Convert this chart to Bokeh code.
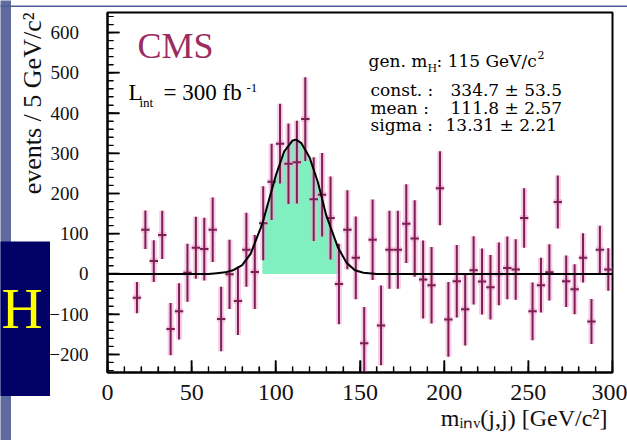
import math
from bokeh.plotting import figure
from bokeh.models import Range1d, Label, Title, FixedTicker, ColumnDataSource, CustomJSTickFormatter
from bokeh.embed import file_html
from bokeh.resources import INLINE

# ---------------- data ----------------
mass = [17.5, 22.5, 27.5, 32.5, 37.5, 42.5, 47.5, 52.5, 57.5, 62.5,
        67.5, 72.5, 77.5, 82.5, 87.5, 92.5, 97.5, 102.5, 107.5, 112.5,
        117.5, 122.5, 127.5, 132.5, 137.5, 142.5, 147.5, 152.5, 157.5, 162.5,
        167.5, 172.5, 177.5, 182.5, 187.5, 192.5, 197.5, 202.5, 207.5, 212.5,
        217.5, 222.5, 227.5, 232.5, 237.5, 242.5, 247.5, 252.5, 257.5, 262.5,
        267.5, 272.5, 277.5, 282.5, 287.5, 292.5, 297.5]
events = [-59, 110, 32, 97, -137, -93, 3, 65, 62, 110,
          -112, -1, -67, 60, 5, 126, 229, 324, 274, 278,
          385, 186, 197, 139, -25, 110, 40, -172, 85, -128,
          60, 60, 125, 88, -14, -28, 213, -113, -18, -88,
          9, -19, -33, 0, 15, 11, 139, -93, -28, 4,
          179, -18, -38, 40, -118, 60, 11]
errors = [39, 48, 52, 60, 65, 70, 72, 77, 78, 80,
          80, 86, 85, 92, 92, 92, 95, 99, 100, 103,
          104, 104, 104, 103, 100, 98, 103, 90, 100, 99,
          97, 97, 98, 95, 97, 95, 92, 93, 90, 90,
          85, 82, 80, 78, 78, 75, 74, 72, 68, 70,
          66, 64, 62, 61, 56, 60, 53]
bin_width = 5

# fitted curve as drawn in the picture
fit_mass = [0, 60, 65, 70, 75, 80, 85, 88, 92, 95, 100, 105, 110, 112, 115,
            120, 125, 130, 137, 142, 147, 152, 160, 300]
fit_events = [0, 0, 2, 4, 10, 22, 50, 82, 125, 170, 245, 305, 332, 334, 326,
              290, 228, 145, 65, 28, 9, 3, 0, 0]
fill_lo, fill_hi = 92, 137

# fit results printed on the chart
gen_mass = 115
fit_names = ["const. :", "mean  :", "sigma :"]
fit_values = [334.7, 111.8, 13.31]
fit_errors = [53.5, 2.57, 2.21]
luminosity = 300

x_ticks = [0, 50, 100, 150, 200, 250, 300]
x_minor = list(range(0, 301, 10))
y_ticks = [-200, -100, 0, 100, 200, 300, 400, 500, 600]
y_minor = list(range(-240, 651, 20))
X_MIN, X_MAX, Y_MIN, Y_MAX = 0, 300, -245, 650

SERIF = "Liberation Serif"
STAT = "DejaVu Serif"
INK = "#111111"
W, H = 627, 440

# ---------------- main figure (page has no margin: it fills the window) ----------------
p = figure(width=W, height=H, x_range=Range1d(X_MIN, X_MAX), y_range=Range1d(Y_MIN, Y_MAX),
           output_backend="svg", toolbar_location=None,
           min_border_left=107, min_border_right=15, min_border_top=12, min_border_bottom=68,
           background_fill_color="white", border_fill_color="white",
           outline_line_color="black", outline_line_width=2)
p.xgrid.visible = False
p.ygrid.visible = False

for ax, ticks, minor in ((p.xaxis[0], x_ticks, x_minor), (p.yaxis[0], y_ticks, y_minor)):
    ax.ticker = FixedTicker(ticks=ticks, minor_ticks=minor)
    ax.axis_line_color = "black"
    ax.axis_line_width = 2
    ax.major_tick_in = 12
    ax.major_tick_out = 0
    ax.minor_tick_in = 6
    ax.minor_tick_out = 0
    ax.major_tick_line_color = "black"
    ax.major_tick_line_width = 1.5
    ax.minor_tick_line_color = "black"
    ax.minor_tick_line_width = 1.2
    ax.major_label_text_font = SERIF
    ax.major_label_text_color = INK

p.xaxis.major_label_text_font_size = "24px"
p.xaxis.major_label_standoff = 12
p.yaxis.major_label_text_font_size = "19px"
p.yaxis.major_label_standoff = 19
# the upper labels of the original sit one digit further left
p.yaxis.formatter = CustomJSTickFormatter(
    code="const s = String(tick).replace('-', '\u2212'); return tick >= 200 ? s + '\u2007' : s;")

# axis titles
p.add_layout(Title(text="events / 5 GeV/c\u00b2", align="right", offset=0, standoff=0,
                   text_font=SERIF, text_font_size="26px", text_font_style="normal",
                   text_color=INK), "left")
p.add_layout(Title(text="m\u1d62\u2099\u1d65(j,j) [GeV/c\u00b2]", align="right", offset=5, standoff=0,
                   text_font=SERIF, text_font_size="24px", text_font_style="normal",
                   text_color=INK), "below")

# tick marks drawn inward (half of each dash falls outside the frame and is clipped)
p.scatter(x=x_ticks, y=[Y_MIN] * len(x_ticks), marker="dash", angle=math.pi / 2, size=24,
          line_color="black", line_width=1.5)
p.scatter(x=x_minor, y=[Y_MIN] * len(x_minor), marker="dash", angle=math.pi / 2, size=12,
          line_color="black", line_width=1.2)
p.scatter(x=[X_MIN] * len(y_ticks), y=y_ticks, marker="dash", size=24,
          line_color="black", line_width=1.5)
p.scatter(x=[X_MIN] * len(y_minor), y=y_minor, marker="dash", size=12,
          line_color="black", line_width=1.2)

# signal fill under the curve
fill_x = [m for m in fit_mass if fill_lo <= m <= fill_hi]
fill_y = [e for m, e in zip(fit_mass, fit_events) if fill_lo <= m <= fill_hi]
p.varea(x=fill_x, y1=[0] * len(fill_x), y2=fill_y, fill_color="#80f0c0")

# data points with error bars
src = ColumnDataSource(dict(
    x=mass, y=events,
    lo=[v - e for v, e in zip(events, errors)],
    hi=[v + e for v, e in zip(events, errors)],
    xl=[m - bin_width / 2 for m in mass],
    xr=[m + bin_width / 2 for m in mass]))
for col, w, a in (("#f2a6d2", 6, 0.55), ("#7b1f55", 2, 1.0)):
    p.segment(x0="x", y0="lo", x1="x", y1="hi", source=src, line_color=col, line_width=w, line_alpha=a)
    p.segment(x0="xl", y0="y", x1="xr", y1="y", source=src, line_color=col, line_width=w, line_alpha=a)

# fit curve
p.line(fit_mass, fit_events, line_color="black", line_width=2)


def txt(fig, s, sx, sy, size, font=SERIF, color="black"):
    # sy is the wanted baseline; the rendered baseline sits ~0.35 em lower, so lift it
    fig.add_layout(Label(x=sx, y=sy + 0.35 * size, x_units="screen", y_units="screen", text=s,
                         text_font=font, text_font_size=f"{size}px", text_color=color,
                         text_align="left", text_baseline="alphabetic"))


# CMS and luminosity
txt(p, "CMS", 30, 314, 36, color="#9b2c60")
txt(p, "L", 21, 272, 23)
txt(p, "int", 32, 265, 13)
txt(p, f"= {luminosity} fb", 56, 272, 23)
txt(p, "-1", 139, 280, 13)

# fit box
txt(p, "gen. m", 261, 306, 17, font=STAT)
txt(p, "H", 320, 300, 11, font=STAT)
txt(p, f": {gen_mass} GeV/c", 329, 306, 17, font=STAT)
txt(p, "2", 430, 314, 11, font=STAT)
for i, (n, v, e) in enumerate(zip(fit_names, fit_values, fit_errors)):
    sy = [277, 259, 242][i]
    txt(p, n, 263, sy, 17, font=STAT)
    txt(p, f"{v} \u00b1 {e}", 343 if i < 2 else 338, sy, 17, font=STAT)


# ---------------- slide decorations around the chart ----------------
def deco(w, h, left, top, color, z, alpha=1.0):
    f = figure(width=w, height=h, x_range=Range1d(0, w), y_range=Range1d(0, h),
               output_backend="svg", toolbar_location=None,
               min_border_left=0, min_border_right=0, min_border_top=0, min_border_bottom=0,
               x_axis_location=None, y_axis_location=None,
               background_fill_color=color, border_fill_color=color,
               background_fill_alpha=alpha, border_fill_alpha=alpha, outline_line_color=None)
    f.xgrid.visible = False
    f.ygrid.visible = False
    f.styles = {"position": "absolute", "left": f"{left}px", "top": f"{top}px", "z-index": str(z)}
    return f


strip_left = deco(11, H, 0, 0, "#5f6b9e", 5)
strip_top = deco(W, 7, 0, 0, "#4d5d96", 5)
hbox = deco(50, 155, 0, 241, "#000066", 5)

# transparent overlay for the slide's "H" letter
ov = deco(W, H, 0, 0, "white", 6, alpha=0.0)
txt(ov, "H", 1, H - 328, 57, color="#ffff00")

open("out.html", "w").write(file_html([p, strip_left, strip_top, hbox, ov], INLINE))
